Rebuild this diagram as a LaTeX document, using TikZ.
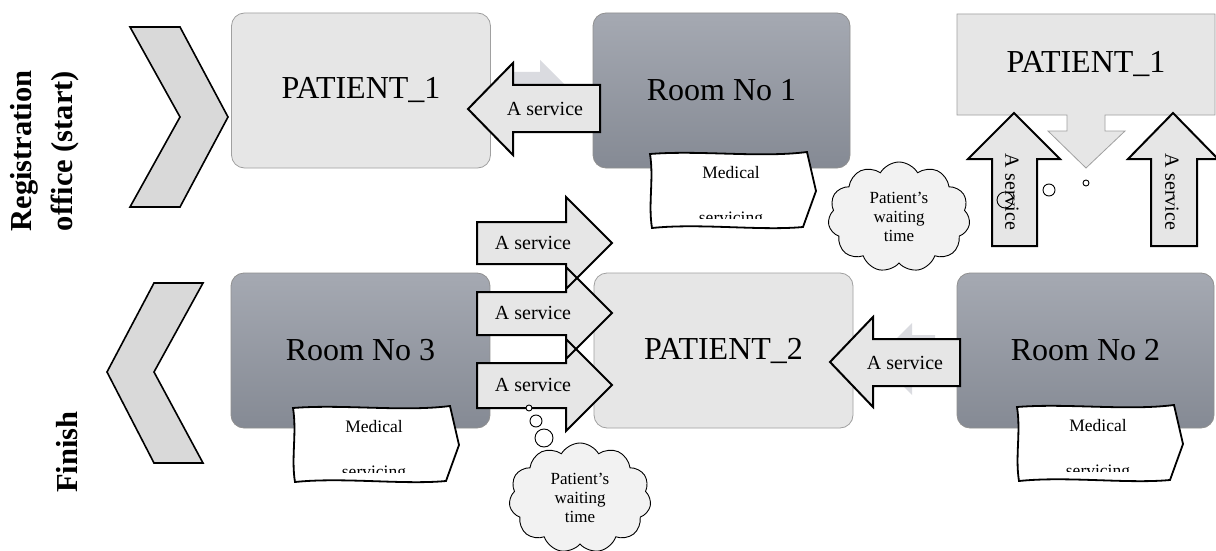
\documentclass[tikz,border=0pt]{standalone}
\usepackage{fontspec}
\setmainfont{Liberation Serif}
\usetikzlibrary{shapes.symbols}
\definecolor{lightfill}{HTML}{E6E6E6}
\definecolor{boxedge}{HTML}{A0A0A0}
\definecolor{darktop}{HTML}{A5A9B2}
\definecolor{darkbot}{HTML}{858A94}
\definecolor{arrowfill}{HTML}{E6E6E6}
\definecolor{chevfill}{HTML}{D9D9D9}
\definecolor{cloudfill}{HTML}{F2F2F2}
\definecolor{faint}{HTML}{DADBE0}
\tikzset{
 lightbox/.style={draw=boxedge, line width=0.8pt, fill=lightfill, rounded corners=13pt, minimum width=259pt, minimum height=155pt, font=\fontsize{32}{38}\selectfont, inner sep=0pt},
 darkbox/.style={draw=boxedge!90!black, line width=0.8pt, top color=darktop, bottom color=darkbot, rounded corners=13pt, minimum width=259pt, minimum height=155pt, font=\fontsize{32}{38}\selectfont, inner sep=0pt},
 callout/.style={draw=boxedge, line width=0.8pt, fill=lightfill},
 svcarrow/.style={draw=black, line width=2pt, fill=arrowfill, line join=miter},
 svcfill/.style={fill=arrowfill},
 svcline/.style={draw=black, line width=2pt, line join=miter},
 svctext/.style={font=\fontsize{20}{24}\selectfont, inner sep=0pt},
 chev/.style={draw=black, line width=1.6pt, fill=chevfill, line join=miter},
 medshape/.style={draw=black, line width=1.8pt, fill=white},
 medtext/.style={font=\fontsize{17.5}{20}\selectfont, inner sep=0pt, anchor=base},
 thought/.style={cloud, cloud puffs=11, cloud puff arc=120, draw=black, line width=0.9pt, fill=cloudfill, aspect=1.3, minimum width=142pt, minimum height=110pt, align=center, font=\fontsize{17}{19}\selectfont, inner sep=0pt},
 bubble/.style={circle, draw=black, line width=0.9pt, inner sep=0pt},
 sidelabel/.style={font=\bfseries\fontsize{30.5}{41}\selectfont, rotate=90, align=center, inner sep=0pt},
 pics/medical/.style={code={
   \path[medshape] (0,0) .. controls (50,-4) and (110,4) .. (157,-2) -- (166,37) -- (153,73) .. controls (110,77) and (50,69) .. (2,74) .. controls (-2,50) and (4,25) .. (0,0) -- cycle;
   \begin{scope}
    \clip (0,0) rectangle (170,64);
    \node[medtext] (-a) at (81,24) {Medical};
    \node[medtext] (-b) at (81,69) {servicing};
   \end{scope}
 }}
}
\begin{document}
\begin{tikzpicture}[x=1pt,y=-1pt]
\useasboundingbox (0,0) rectangle (1216,551);
\fill[white] (0,0) rectangle (1216,551);
% faint background arrows
\path[fill=faint] (505,72) -- (540,72) -- (540,60) -- (576,96) -- (540,132) -- (540,120) -- (505,120) -- cycle;
\path[fill=faint] (935,335) -- (912,335) -- (912,323) -- (876,359) -- (912,395) -- (912,383) -- (935,383) -- cycle;
% boxes
\node[lightbox] (pat1) at (361,90.5) {PATIENT\_1};
\node[darkbox, minimum width=257pt] (room1) at (721.5,90.5) {Room No 1};
\node[darkbox] (room3) at (360.5,350.5) {Room No 3};
\node[lightbox] (pat2) at (723.5,350.5) {PATIENT\_2};
\node[darkbox, minimum width=257pt] (room2) at (1085.5,350.5) {Room No 2};
% callout PATIENT_1
\path[callout] (957,14) -- (1215,14) -- (1215,115) -- (1105,115) -- (1105,131) -- (1125,131) -- (1086,168) -- (1048,131) -- (1067,131) -- (1067,115) -- (957,115) -- cycle;
\node[font=\fontsize{32}{38}\selectfont, inner sep=0pt] (pat1r) at (1086,64) {PATIENT\_1};
% medical servicing
\pic (med1) at (650,154) {medical};
\pic (med3) at (293,408) {medical};
\pic (med2) at (1017,407) {medical};
% left arrows
\path[svcarrow] (600,85) -- (513,85) -- (513,63) -- (468,109) -- (513,155) -- (513,132) -- (600,132) -- cycle;
\node[svctext] (s1) at (545,109) {A service};
\path[svcarrow] (960,339) -- (873,339) -- (873,317) -- (830,362) -- (873,407) -- (873,386) -- (960,386) -- cycle;
\node[svctext] (s2) at (905,363) {A service};
% right arrows: fills then outlines
\foreach \t/\sa/\sb in {243/222/264, 313/292/335, 385/363/408}{
  \path[svcfill] (477,\sa) -- (566,\sa) -- (566,\t-46) -- (612,\t) -- (566,\t+46) -- (566,\sb) -- (477,\sb) -- cycle;
}
\foreach \t/\sa/\sb in {243/222/264, 313/292/335, 385/363/408}{
  \path[svcline] (477,\sa) -- (566,\sa) -- (566,\t-46) -- (612,\t) -- (566,\t+46) -- (566,\sb) -- (477,\sb) -- cycle;
}
\node[svctext] (s3) at (533,243) {A service};
\node[svctext] (s4) at (533,313) {A service};
\node[svctext] (s5) at (533,385) {A service};
% up arrows
\path[svcarrow] (992,246) -- (992,159) -- (968,159) -- (1014,113) -- (1060,159) -- (1037,159) -- (1037,246) -- cycle;
\node[svctext, rotate=-90] (s6) at (1012,192) {A service};
\path[svcarrow] (1151,246) -- (1151,159) -- (1128,159) -- (1173,113) -- (1218,159) -- (1197,159) -- (1197,246) -- cycle;
\node[svctext, rotate=-90] (s7) at (1172,192) {A service};
% thought bubbles
\node[bubble, minimum size=16pt] (b1) at (1005,200) {};
\node[bubble, minimum size=12pt] (b2) at (1049,190) {};
\node[bubble, minimum size=6pt] (b3) at (1086,183) {};
\node[bubble, fill=white, minimum size=6pt] (b4) at (529,408) {};
\node[bubble, fill=white, minimum size=12pt] (b5) at (536,421) {};
\node[bubble, fill=white, minimum size=18pt] (b6) at (544,438) {};
\node[thought] (cloud1) at (899,217) {Patient’s\\waiting\\time};
\node[thought] (cloud2) at (580,498) {Patient’s\\waiting\\time};
% chevrons
\path[chev] (130,27) -- (180,27) -- (228,117) -- (180,207) -- (130,207) -- (180,117) -- cycle;
\path[chev] (154,283) -- (203,283) -- (154,372) -- (203,463) -- (154,463) -- (107,372) -- cycle;
% side labels
\node[sidelabel] (reg) at (45,151) {Registration\\office (start)};
\node[sidelabel] (fin) at (67,452) {Finish};
\end{tikzpicture}
\end{document}
